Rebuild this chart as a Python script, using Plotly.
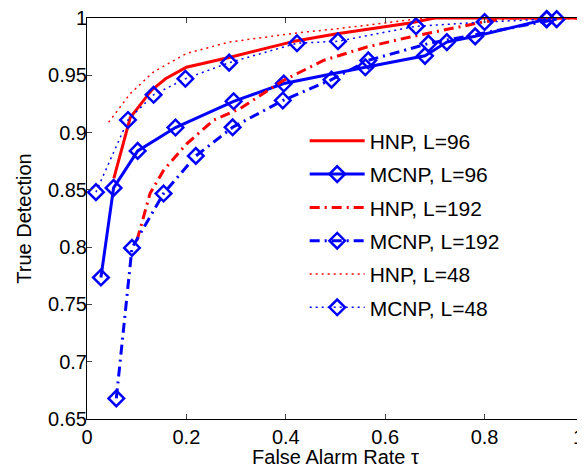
import plotly.graph_objects as go

# HNP, L=96 (solid red)
hnp96_x = [0.054, 0.087, 0.13, 0.158, 0.20, 0.29, 0.42, 0.50, 0.65, 0.70, 1.0]
hnp96_y = [0.860, 0.913, 0.937, 0.947, 0.957, 0.966, 0.980, 0.986, 0.9956, 1.0, 1.0]

# MCNP, L=96 (solid blue, diamonds)
mcnp96_x = [0.028, 0.0535, 0.102, 0.178, 0.295, 0.396, 0.56, 0.68, 0.724, 0.781, 0.925]
mcnp96_y = [0.7735, 0.8517, 0.884, 0.9044, 0.9273, 0.9428, 0.957, 0.967, 0.979, 0.984, 0.999]

# HNP, L=192 (dash-dot red)
hnp192_x = [0.1006, 0.127, 0.154, 0.20, 0.255, 0.3085, 0.3956, 0.476, 0.563, 0.65, 0.797, 0.85, 1.0]
hnp192_y = [0.806, 0.847, 0.867, 0.890, 0.911, 0.921, 0.9456, 0.963, 0.9747, 0.9834, 0.9965, 1.0, 1.0]

# MCNP, L=192 (dash-dot blue, diamonds)
mcnp192_x = [0.059, 0.0905, 0.154, 0.219, 0.293, 0.394, 0.492, 0.566, 0.687, 0.945]
mcnp192_y = [0.668, 0.7993, 0.8468, 0.8796, 0.9046, 0.928, 0.9462, 0.963, 0.9777, 0.999]

# HNP, L=48 (dotted red)
hnp48_x = [0.0436, 0.087, 0.134, 0.20, 0.286, 0.4225, 0.505, 0.65, 0.68, 1.0]
hnp48_y = [0.909, 0.934, 0.953, 0.969, 0.979, 0.987, 0.9907, 0.998, 1.0, 1.0]

# MCNP, L=48 (dotted blue, diamonds)
mcnp48_x = [0.018, 0.0825, 0.134, 0.198, 0.286, 0.4225, 0.505, 0.662, 0.80, 0.925]
mcnp48_y = [0.848, 0.911, 0.933, 0.947, 0.961, 0.978, 0.9797, 0.9928, 0.9965, 0.999]

x_ticks = [0, 0.2, 0.4, 0.6, 0.8, 1]
x_tick_labels = ["0", "0.2", "0.4", "0.6", "0.8", "1\u00a0\u00a0"]
y_ticks = [0.65, 0.7, 0.75, 0.8, 0.85, 0.9, 0.95, 1]
y_tick_labels = ["0.65", "0.7", "0.75", "0.8", "0.85", "0.9", "0.95", "1"]

RED = "#ff0000"
BLUE = "#0000ff"
DASHDOT = "10px,5px,2px,5px"
DOT = "2px,4px"
FONT = "Liberation Sans, Arial, sans-serif"

fig = go.Figure()

def add(x, y, name, color, dash, width, markers):
    fig.add_trace(go.Scatter(
        x=x, y=y, name=name, legendgroup=name,
        mode="lines+markers" if markers else "lines",
        line=dict(color=color, dash=dash, width=width),
        marker=dict(symbol="diamond-open", size=12, color=color,
                    line=dict(color=color, width=2.5)),
        cliponaxis=False,
    ))

add(hnp96_x, hnp96_y, "HNP, L=96", RED, "solid", 3, False)
add(mcnp96_x, mcnp96_y, "MCNP, L=96", BLUE, "solid", 3, True)
add(hnp192_x, hnp192_y, "HNP, L=192", RED, DASHDOT, 3, False)
add(mcnp192_x, mcnp192_y, "MCNP, L=192", BLUE, DASHDOT, 3, True)
add(hnp48_x, hnp48_y, "HNP, L=48", RED, DOT, 1.5, False)
add(mcnp48_x, mcnp48_y, "MCNP, L=48", BLUE, DOT, 1.5, True)

axis_common = dict(
    showline=True, linecolor="black", linewidth=1, mirror="ticks",
    ticks="inside", ticklen=5, tickcolor="#444", showgrid=False, zeroline=False,
    tickfont=dict(family=FONT, size=20, color="black"),
    automargin=False, ticklabeloverflow="allow",
)

# the page body adds an 8px offset, so the figure is sized 8px smaller
fig.update_layout(
    width=577, height=460,
    margin=dict(l=79, r=1, t=10, b=49),
    plot_bgcolor="white", paper_bgcolor="white",
    font=dict(family=FONT, size=21, color="black"),
    xaxis=dict(range=[0, 1], tickvals=x_ticks, ticktext=x_tick_labels,
               title=dict(text="False Alarm Rate τ", font=dict(family=FONT, size=20), standoff=2),
               **axis_common),
    yaxis=dict(range=[0.65, 1], tickvals=y_ticks, ticktext=y_tick_labels,
               ticklabelstandoff=-5,
               title=dict(text="True Detection", font=dict(family=FONT, size=20), standoff=11),
               **axis_common),
    legend=dict(x=0.438, y=0.744, xanchor="left", yanchor="top",
                bgcolor="rgba(0,0,0,0)", borderwidth=0,
                itemwidth=55, traceorder="grouped", tracegroupgap=3,
                font=dict(family=FONT, size=21, color="black")),
    showlegend=True,
)

fig.write_html("out.html")
